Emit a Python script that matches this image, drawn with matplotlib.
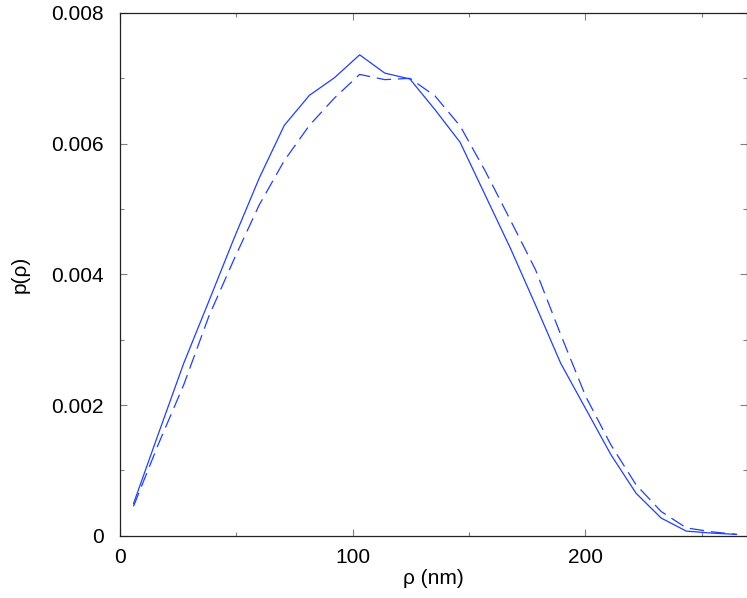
import numpy as np
import matplotlib
matplotlib.use("Agg")
import matplotlib.pyplot as plt
from matplotlib.ticker import MultipleLocator, FuncFormatter

plt.rcParams['font.family'] = ['Liberation Sans', 'DejaVu Sans']

# bin centres (nm)
rho = [5.8, 16.6, 27.4, 38.2, 49.0, 59.8, 70.6, 81.4, 92.2, 103.0,
       113.8, 124.6, 135.4, 146.2, 157.0, 167.8, 178.6, 189.4, 200.2, 211.0,
       221.8, 232.6, 243.4, 254.2, 265.0]

# solid curve
p_solid = [0.00049, 0.00157, 0.00264, 0.00359, 0.00455, 0.00547, 0.00628, 0.00674, 0.00701, 0.00736,
           0.00708, 0.00699, 0.00652, 0.00602, 0.00521, 0.00440, 0.00353, 0.00264, 0.00194, 0.00124,
           0.00065, 0.00027, 0.00007, 0.00004, 0.00002]

# dashed curve
p_dashed = [0.00045, 0.00141, 0.00231, 0.00336, 0.00423, 0.00506, 0.00574, 0.00628, 0.00670, 0.00706,
            0.00698, 0.00700, 0.00673, 0.00627, 0.00558, 0.00483, 0.00407, 0.00308, 0.00213, 0.00139,
            0.00078, 0.00037, 0.00012, 0.00006, 0.00002]

W, H = 747, 598
fig = plt.figure(figsize=(W / 100, H / 100), dpi=100)
ax = fig.add_axes([120 / W, 62.3 / H, 627 / W, 522.7 / H])

blue = '#1f40ff'
ax.plot(rho, p_solid, color=blue, lw=0.9)
ax.plot(rho, p_dashed, color=blue, lw=0.9, dashes=(11.5, 5.5))

ax.set_xlim(0, 269.5)
ax.set_ylim(0, 0.008)

ax.xaxis.set_major_locator(MultipleLocator(100))
ax.xaxis.set_minor_locator(MultipleLocator(50))
ax.yaxis.set_major_locator(MultipleLocator(0.002))
ax.yaxis.set_minor_locator(MultipleLocator(0.001))
ax.yaxis.set_major_formatter(FuncFormatter(lambda v, pos: "0" if abs(v) < 1e-12 else f"{v:.3f}"))

ax.tick_params(which='both', direction='in', top=True, right=True, color='#808080', width=0.8,
               labelsize=15)
ax.tick_params(axis='y', pad=11.8)
ax.tick_params(axis='x', pad=8.5)
ax.tick_params(which='major', length=5)
ax.tick_params(which='minor', length=3)

for s in ax.spines.values():
    s.set_linewidth(0.9)
    s.set_color('#222222')

ax.set_xlabel("ρ (nm)", fontsize=15, labelpad=1.5)
ax.set_ylabel("p(ρ)", fontsize=15, labelpad=15)

fig.savefig("out.png", dpi=100)
